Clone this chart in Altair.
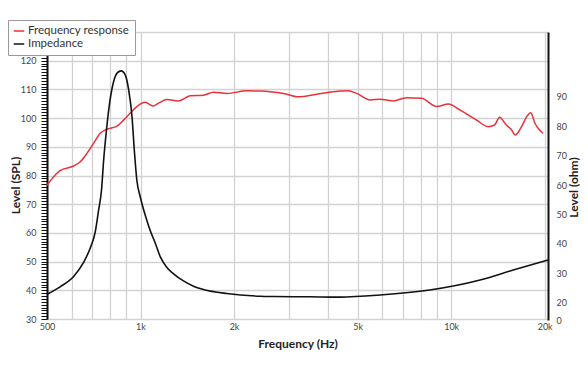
import altair as alt
import pandas as pd

# Frequency response (SPL, dB)
fr_freq = [500, 520, 551, 609, 640, 672, 706, 742, 779, 840, 882, 926, 973, 1035, 1097, 1143, 1216,
           1325, 1445, 1595, 1716, 1897, 2199, 2426, 2612, 2885, 3220, 3690, 4173, 4664, 4963,
           5484, 5900, 6515, 7180, 8025, 8985, 9797, 10690, 12080, 13150, 13800, 14320, 15050,
           15600, 16100, 16850, 17500, 18050, 18600, 19070, 19750]
fr_spl = [76.6, 79.0, 81.7, 83.3, 84.8, 87.7, 91.2, 94.7, 96.1, 97.2, 99.3, 101.7, 104.0, 105.5, 104.2,
          105.2, 106.5, 106.0, 107.8, 108.0, 109.0, 108.6, 109.5, 109.4, 109.2, 108.6, 107.4,
          108.3, 109.2, 109.5, 108.6, 106.3, 106.6, 106.0, 107.1, 106.9, 104.0, 104.9, 102.8,
          99.3, 97.0, 97.6, 100.3, 97.6, 96.1, 94.1, 97.0, 100.5, 101.9, 98.2, 96.4, 94.7]

# Impedance (ohm)
imp_freq = [500, 551, 609, 655, 689, 715, 733, 749, 761, 779, 798, 819, 843, 867, 893, 916, 939,
            955, 973, 998, 1047, 1073, 1116, 1158, 1216, 1275, 1375, 1481, 1594, 1897, 2426,
            2675, 3500, 4380, 5900, 8530, 12390, 15840, 20500]
imp_ohm = [22.9, 25.4, 28.9, 33.6, 38.6, 44.1, 51.5, 58.3, 68.5, 79.8, 88.9, 95.1, 98.2, 98.8,
           97.4, 92.3, 83.2, 71.9, 61.7, 56.0, 48.1, 44.7, 40.2, 35.6, 32.0, 29.9, 27.4, 25.6,
           24.5, 23.1, 22.2, 22.1, 22.0, 21.9, 22.6, 24.3, 27.7, 31.1, 34.5]

series_names = ["Frequency response", "Impedance"]
series_colors = ["#e8313a", "#111111"]

x_grid = [500, 600, 700, 800, 900, 1000, 2000, 3000, 4000, 5000, 6000, 7000, 8000, 9000,
          10000, 20000]
x_labels = [500, 1000, 2000, 5000, 10000, 20000]
spl_ticks = list(range(30, 131))
ohm_ticks = [0, 20, 30, 40, 50, 60, 70, 80, 90]

df_fr = pd.DataFrame({"freq": fr_freq, "val": fr_spl, "series": series_names[0]})
df_imp = pd.DataFrame({"freq": imp_freq, "val": imp_ohm, "series": series_names[1]})

FONT = "Lato"
W, H = 501, 287

label_list = ",".join(str(v) for v in x_labels)
x_enc = alt.X(
    "freq:Q",
    scale=alt.Scale(type="log", domain=[500, 20500], nice=False),
    axis=alt.Axis(
        values=x_grid,
        labelExpr=f"indexof([{label_list}], datum.value) >= 0 ? (datum.value >= 1000 ? (datum.value / 1000) + 'k' : '' + datum.value) : ''",
        grid=True, gridColor="#d2d2d2", gridWidth=1.3,
        ticks=False, domain=False,
        labelFontSize=9, labelColor="#444", labelFont=FONT, labelPadding=3,
        labelFlush=False, labelOverlap=False,
        title="Frequency (Hz)", titleFont=FONT, titleFontSize=12, titleFontWeight="bold",
        titleColor="#222", titleBaseline="middle", titleY=24,
    ),
)

color_enc = alt.Color(
    "series:N",
    scale=alt.Scale(domain=series_names, range=series_colors),
    legend=alt.Legend(
        title=None, orient="none", legendX=-39, legendY=-12,
        symbolType="stroke", symbolSize=110, symbolStrokeWidth=1.5,
        labelFont=FONT, labelFontSize=11.5, labelColor="#333",
        strokeColor="#999", fillColor="white", padding=5, rowPadding=1,
        labelOffset=3,
    ),
)

fr_line = alt.Chart(df_fr).mark_line(strokeWidth=1.5, interpolate="monotone").encode(
    x=x_enc,
    y=alt.Y(
        "val:Q",
        scale=alt.Scale(domain=[30, 130], nice=False, zero=False),
        axis=alt.Axis(
            values=spl_ticks,
            labelExpr="(datum.value % 10 === 0 && datum.value < 130) ? datum.label : ''",
            labelOverlap=False,
            grid=True, gridColor="#d2d2d2", gridWidth=1.3,
            gridOpacity=alt.condition("datum.value % 10 === 0", alt.value(1), alt.value(0)),
            ticks=True, tickSize=6, tickColor="#111", tickWidth=1,
            domain=True, domainColor="#111", domainWidth=2,
            labelFontSize=9, labelColor="#444", labelFont=FONT, labelPadding=5,
            title="Level (SPL)", titleFont=FONT, titleFontSize=12, titleFontWeight="bold",
            titleColor="#222", titleAngle=270, titleAlign="center", titleBaseline="middle",
            titleX=-32, titleY=153,
        ),
    ),
    color=color_enc,
)

imp_line = alt.Chart(df_imp).mark_line(strokeWidth=1.6, interpolate="monotone").encode(
    x=x_enc,
    y=alt.Y(
        "val:Q",
        scale=alt.Scale(domain=[0, 20, 112], range=[288, 270.7, 0], nice=False, zero=False),
        axis=alt.Axis(
            orient="right", values=ohm_ticks, grid=False, ticks=False,
            domain=True, domainColor="#111", domainWidth=2,
            labelFontSize=9, labelColor="#444", labelFont=FONT, labelPadding=8,
            labelOverlap=False,
            title="Level (ohm)", titleFont=FONT, titleFontSize=12, titleFontWeight="bold",
            titleColor="#222", titleAngle=270, titleAlign="center", titleBaseline="middle",
            titleX=25, titleY=155,
        ),
    ),
    color=color_enc,
)

chart = alt.layer(fr_line, imp_line).resolve_scale(y="independent").properties(
    width=W, height=H, autosize="none",
    padding={"left": 39, "top": 24, "right": 32, "bottom": 45},
).configure_view(stroke=None)

chart.save("out.html", embed_options={"renderer": "svg", "actions": False})
